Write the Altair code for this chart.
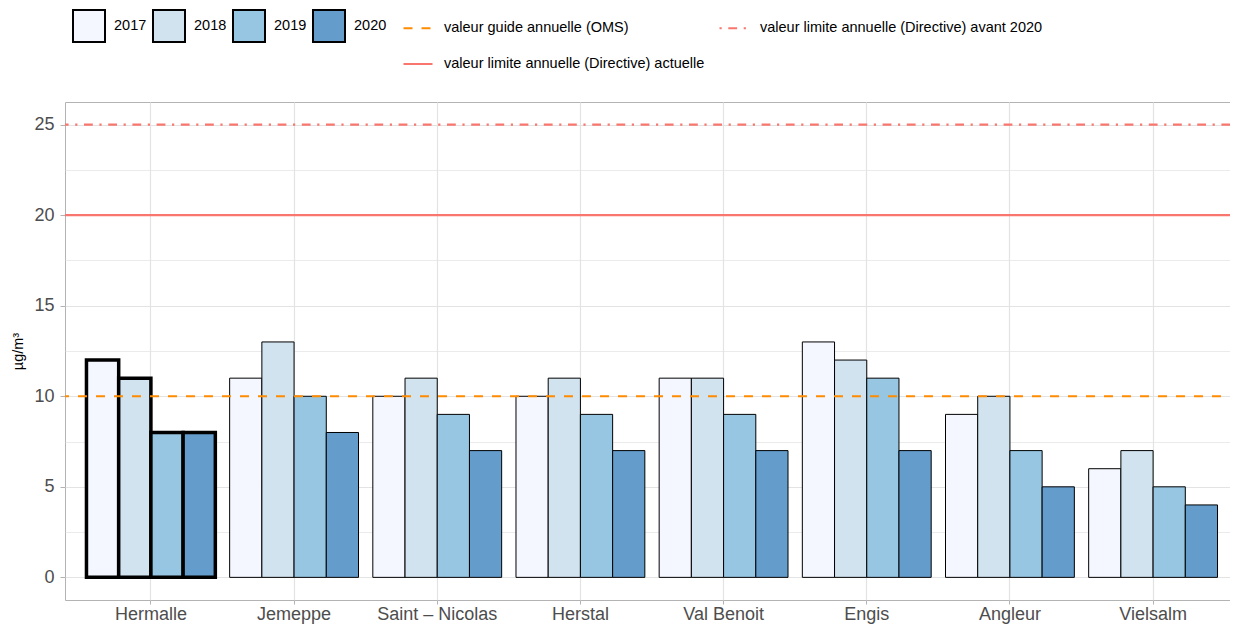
import altair as alt
import pandas as pd

stations = ["Hermalle", "Jemeppe", "Saint – Nicolas", "Herstal", "Val Benoit",
            "Engis", "Angleur", "Vielsalm"]
years = ["2017", "2018", "2019", "2020"]
v2017 = [12, 11, 10, 10, 11, 13, 9, 6]
v2018 = [11, 13, 11, 11, 11, 12, 10, 7]
v2019 = [8, 10, 9, 9, 9, 11, 7, 5]
v2020 = [8, 8, 7, 7, 7, 7, 5, 4]
year_colors = ["#f4f7ff", "#d1e3ee", "#97c6e2", "#649ccb"]
highlight = "Hermalle"

line_labels = ["valeur guide annuelle (OMS)",
               "valeur limite annuelle (Directive) avant 2020",
               "valeur limite annuelle (Directive) actuelle"]
line_values = [10, 25, 20]
line_colors = ["#ff8c00", "#f8766d", "#f8766d"]
line_dashes = [[9, 9], [2.2, 6.6, 8.8, 6.6], [1, 0]]

y_ticks = [0, 2.5, 5, 7.5, 10, 12.5, 15, 17.5, 20, 22.5, 25]

rows = []
for yr, vals in zip(years, [v2017, v2018, v2019, v2020]):
    for st, v in zip(stations, vals):
        rows.append({"station": st, "year": yr, "value": v})
df = pd.DataFrame(rows)
lines_df = pd.DataFrame({"label": line_labels, "value": line_values})

FONT = "Liberation Sans"

bars = alt.Chart(df).mark_bar(stroke="black").encode(
    x=alt.X("station:N", sort=stations,
            scale=alt.Scale(paddingInner=0.1, paddingOuter=0.15),
            axis=alt.Axis(title=None, labelAngle=0, labelFontSize=18,
                          labelColor="#4d4d4d", labelFont=FONT,
                          tickColor="#b3b3b3", tickSize=4, labelPadding=1,
                          grid=True, gridColor="#e3e3e3", gridWidth=1.2,
                          domain=False)),
    xOffset=alt.XOffset("year:N", sort=years,
                        scale=alt.Scale(paddingInner=0, paddingOuter=0)),
    y=alt.Y("value:Q",
            scale=alt.Scale(domain=[-1.25, 26.25], nice=False, zero=False),
            axis=alt.Axis(title="µg/m³", values=y_ticks,
                          labelExpr="datum.value % 5 === 0 ? datum.label : ''",
                          labelFontSize=18, labelColor="#4d4d4d", labelFont=FONT,
                          tickColor="#b3b3b3", tickSize=5, labelPadding=6,
                          tickOpacity={"condition": {"test": "datum.value % 5 !== 0", "value": 0}, "value": 1},
                          gridColor="#e3e3e3",
                          gridWidth={"condition": {"test": "datum.value % 5 !== 0", "value": 0.7}, "value": 1.2},
                          domain=False, titleFont=FONT, titleFontSize=14.5,
                          titleFontWeight="normal", titleColor="black",
                          titlePadding=8)),
    y2=alt.datum(0),
    fill=alt.Fill("year:N", sort=years,
                  scale=alt.Scale(domain=years, range=year_colors),
                  legend=alt.Legend(title=None, orient="none", legendX=7, legendY=-93,
                                    direction="horizontal", columns=4,
                                    columnPadding=2, symbolType="square",
                                    symbolSize=1024, symbolStrokeColor="black",
                                    symbolStrokeWidth=2, symbolOpacity=1,
                                    labelOffset=8, labelFontSize=14.5,
                                    labelFont=FONT, labelColor="black",
                                    labelLimit=0)),
    strokeWidth=alt.condition(f"datum.station === '{highlight}'",
                              alt.value(3.5), alt.value(1)),
)

line_legend = alt.Legend(title=None, orient="none", legendX=337, legendY=-90,
                         direction="horizontal", columns=2, columnPadding=10,
                         rowPadding=13,
                         symbolType="stroke", symbolSize=841,
                         symbolStrokeWidth=2.2, labelOffset=10, labelLimit=0,
                         labelFontSize=14.5, labelFont=FONT, labelColor="black")

rules = alt.Chart(lines_df).mark_rule(strokeWidth=2.2).encode(
    y=alt.Y("value:Q"),
    stroke=alt.Stroke("label:N", sort=line_labels,
                      scale=alt.Scale(domain=line_labels, range=line_colors),
                      legend=line_legend),
    strokeDash=alt.StrokeDash("label:N", sort=line_labels,
                              scale=alt.Scale(domain=line_labels, range=line_dashes),
                              legend=line_legend),
)

chart = alt.layer(bars, rules).properties(
    width=1174, height=498,
    padding={"left": 57, "top": 94, "right": -9, "bottom": 24},
    autosize=alt.AutoSizeParams(type="none"),
    background="white",
).configure_view(stroke="#b3b3b3", strokeWidth=1)

chart.save("out.html", embed_options={"renderer": "svg", "actions": False})
